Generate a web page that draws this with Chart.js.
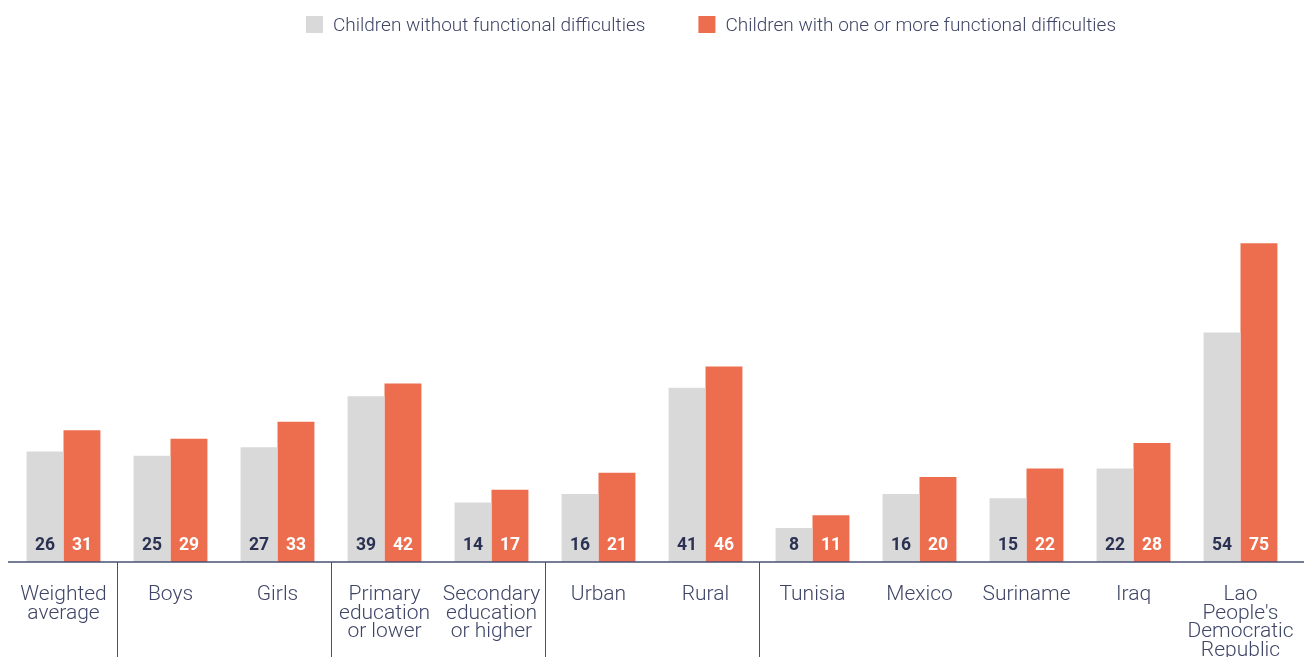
<!DOCTYPE html>
<html>
<head>
<meta charset="utf-8">
<script src="https://cdn.jsdelivr.net/npm/chart.js@4"></script>
<style>
  html, body { margin: 0; padding: 0; background: #ffffff; }
  #wrap { width: 1304px; height: 657px; }
</style>
</head>
<body>
<div id="wrap"><canvas id="myChart" width="1304" height="657"></canvas></div>
<script>
const categories = [
    'Weighted average', 'Boys', 'Girls', 'Primary education or lower',
    'Secondary education or higher', 'Urban', 'Rural', 'Tunisia',
    'Mexico', 'Suriname', 'Iraq', "Lao People's Democratic Republic"
];
const tickLabels = [
    ['Weighted', 'average'], 'Boys', 'Girls', ['Primary', 'education', 'or lower'],
    ['Secondary', 'education', 'or higher'], 'Urban', 'Rural', 'Tunisia',
    'Mexico', 'Suriname', 'Iraq', ['Lao', "People's", 'Democratic', 'Republic']
];
const withoutDifficulties = [26, 25, 27, 39, 14, 16, 41, 8, 16, 15, 22, 54];
const withDifficulties = [31, 29, 33, 42, 17, 21, 46, 11, 20, 22, 28, 75];
// group boundaries sit after these category indexes
const groupBreaks = [0, 2, 4, 6];

const greyBar = '#d9d9d9';
const orangeBar = '#ec6e4e';
const navy = '#2b3152';
const labelColor = '#3e4566';

const barValues = {
    id: 'barValues',
    afterDatasetsDraw(chart) {
        const ctx = chart.ctx;
        ctx.save();
        ctx.font = 'bold 17.5px Roboto';
        ctx.textAlign = 'center';
        ctx.textBaseline = 'middle';
        chart.data.datasets.forEach((ds, i) => {
            chart.getDatasetMeta(i).data.forEach((bar, j) => {
                ctx.fillStyle = i === 0 ? navy : '#ffffff';
                ctx.fillText(ds.data[j], bar.x, bar.base - 16);
            });
        });
        ctx.restore();
    }
};

const axisAndBreaks = {
    id: 'axisAndBreaks',
    afterDraw(chart) {
        const ctx = chart.ctx;
        const x = chart.scales.x;
        const base = chart.chartArea.bottom;
        ctx.save();
        ctx.strokeStyle = '#4a5073';
        ctx.lineWidth = 1.5;
        ctx.beginPath();
        ctx.moveTo(8, base);
        ctx.lineTo(chart.width, base);
        ctx.stroke();
        ctx.lineWidth = 1;
        groupBreaks.forEach(i => {
            const px = Math.round((x.getPixelForValue(i) + x.getPixelForValue(i + 1)) / 2) + 0.5;
            ctx.beginPath();
            ctx.moveTo(px, base);
            ctx.lineTo(px, chart.height);
            ctx.stroke();
        });
        ctx.restore();
    }
};

const topLegend = {
    id: 'topLegend',
    afterDraw(chart) {
        const ctx = chart.ctx;
        ctx.save();
        ctx.font = '300 19px Roboto';
        ctx.textBaseline = 'middle';
        let cx = 306;
        chart.data.datasets.forEach((ds, i) => {
            ctx.fillStyle = ds.backgroundColor;
            ctx.fillRect(cx, 16, 17, 17);
            ctx.fillStyle = labelColor;
            ctx.fillText(ds.label, cx + 27, 26);
            cx += 27 + ctx.measureText(ds.label).width + 53;
        });
        ctx.restore();
    }
};

const ctx = document.getElementById('myChart').getContext('2d');

const myChart = new Chart(ctx, {
    type: 'bar',
    data: {
        labels: tickLabels,
        datasets: [{
            label: 'Children without functional difficulties',
            data: withoutDifficulties,
            backgroundColor: greyBar,
            categoryPercentage: 0.69,
            barPercentage: 1.0
        }, {
            label: 'Children with one or more functional difficulties',
            data: withDifficulties,
            backgroundColor: orangeBar,
            categoryPercentage: 0.69,
            barPercentage: 1.0
        }]
    },
    options: {
        responsive: false,
        animation: false,
        layout: {
            padding: { top: 52, left: 10, right: 10, bottom: 0 }
        },
        plugins: {
            legend: { display: false },
            tooltip: { enabled: false }
        },
        scales: {
            y: {
                display: false,
                min: 0,
                max: 120
            },
            x: {
                grid: { display: false },
                border: { display: false },
                ticks: {
                    color: labelColor,
                    font: { family: 'Roboto', size: 21, weight: '300', lineHeight: 0.88 },
                    padding: 16,
                    maxRotation: 0,
                    autoSkip: false
                },
                afterFit(scale) {
                    scale.height = 95;
                    scale.paddingLeft = 0;
                    scale.paddingRight = 0;
                }
            }
        }
    },
    plugins: [barValues, axisAndBreaks, topLegend]
});
</script>
</body>
</html>
